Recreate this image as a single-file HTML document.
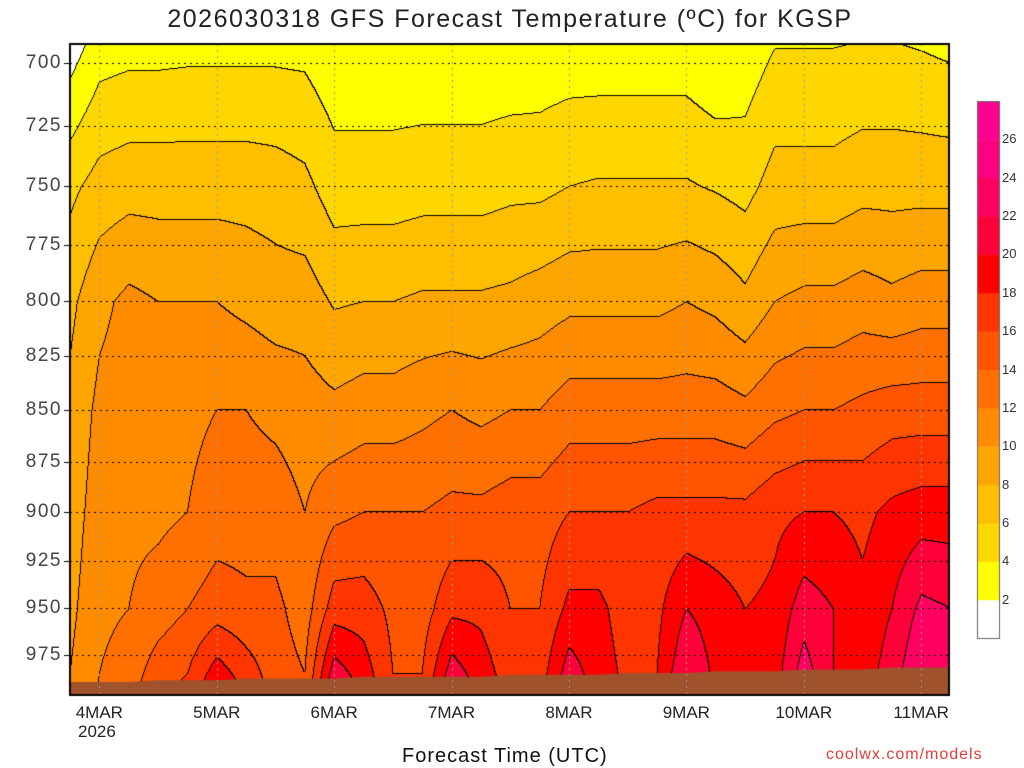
<!DOCTYPE html>
<html><head><meta charset="utf-8"><style>
body{margin:0;background:#fff;width:1024px;height:768px;overflow:hidden;position:relative;font-family:"Liberation Sans","DejaVu Sans",sans-serif}
.t{position:absolute;white-space:nowrap}
</style></head><body>
<div class="t" style="left:0;width:1020px;text-align:center;top:5px;font-size:25px;color:#222;letter-spacing:1.5px">2026030318 GFS Forecast Temperature (ºC) for KGSP</div>
<canvas id="c" width="1024" height="768" style="position:absolute;left:0;top:0"></canvas>
<div class="t" style="left:402px;top:745px;font-size:20px;color:#111;letter-spacing:1px">Forecast Time (UTC)</div>
<div class="t" style="left:826px;top:746px;font-size:16px;color:#e0403a;letter-spacing:1px">coolwx.com/models</div>
<div id="labels"></div>
<script>
const levels=[700,750,800,850,900,950,985];
const dayLabels=["4MAR","5MAR","6MAR","7MAR","8MAR","9MAR","10MAR","11MAR"];
const pTicks=[700,725,750,775,800,825,850,875,900,925,950,975];
const cbTicks=[2,4,6,8,10,12,14,16,18,20,22,24,26];
const binColors=["#ffffff","#ffff00","#ffd700","#ffbf00","#ffa500","#ff8c00","#ff7000","#ff5500","#ff3500","#ff0000","#ff0038","#ff0060","#ff0080","#ff0090"];
const temps=[
[1.5,5.5,7.5,8.5,9,9.5,10],
[3.5,6.8,9.5,10.5,11,11.5,12],
[3.8,7.2,10.5,11,11.5,12,13],
[3.8,7.2,10,11,11.5,13,15],
[3.9,7.2,10,11.5,12,14,16],
[3.9,7.2,10,12,13,15,19],
[3.9,7.2,9.5,12,13,14.5,17],
[3.9,7,9,11.5,13,14.5,15],
[3.8,6.5,9,11,12,13,14],
[2.8,5,7.8,10.5,13.5,17,21],
[2.8,5,8,11,14,17,19],
[2.8,5,8,11,14,15.5,16],
[2.8,5.2,8.3,11.5,14,15,16],
[2.8,5.2,8.3,12,14.5,17.5,21],
[2.8,5.2,8.3,11.5,14.5,17.5,19],
[2.9,5.5,8.5,12,15,16,17],
[3,5.5,9,12,15,16,17],
[3.2,6,9.5,13,16,18.5,21],
[3.2,6.2,9.5,13,16,18.5,19],
[3.2,6.2,9.5,13,16,17,17.5],
[3.2,6.2,9.5,13,16.5,17.5,18],
[3.2,6.2,10,13,16.5,20,22],
[2.5,5.8,9.5,13,16.5,19,19.5],
[3,5.3,8.5,12.5,16.5,18,18],
[4.3,6.8,10,13.5,17.5,18.5,19],
[4.3,6.8,10.5,14,18,21,23],
[4.3,6.8,10.5,14,18,20,20],
[4.5,7.3,11,14.5,17.5,18.5,19],
[4.5,7.3,10.5,15,18.5,20,21],
[4.3,7.3,11,15,19,22.5,24],
[4,7.3,11,15,19,22,22]];
const surfacePressure=[990,990,990,989,989,989,988,988,988,988,987,987,987,987,987,986,986,986,986,985,985,985,984,984,984,983,983,983,982,982,982];

const X0=70,X1=949,Y0=44,Y1=695,DAY=117.4;
function yP(p){return 63+1786*Math.log(p/700);}
const cv=document.getElementById('c'),ctx=cv.getContext('2d');
const W=X1-X0,H=Y1-Y0;
const img=ctx.createImageData(W,H);
const bins=new Int8Array(W*H);
const levY=levels.map(yP);
function hex(c){return [parseInt(c.substr(1,2),16),parseInt(c.substr(3,2),16),parseInt(c.substr(5,2),16)];}
const rgb=binColors.map(hex);
for(let j=0;j<H;j++){
  const y=Y0+j;
  let k=0;while(k<levY.length-2&&y>levY[k+1])k++;
  let fy=(y-levY[k])/(levY[k+1]-levY[k]);
  for(let i=0;i<W;i++){
    const tt=(i)/(DAY/4);let c=Math.min(Math.floor(tt),temps.length-2);let fx=tt-c;
    const a=temps[c][k]+(temps[c][k+1]-temps[c][k])*fy;
    const b=temps[c+1][k]+(temps[c+1][k+1]-temps[c+1][k])*fy;
    const v=a+(b-a)*fx;
    let bin=Math.floor(v/2);bin=Math.max(0,Math.min(13,bin));
    bins[j*W+i]=bin;
  }
}
for(let j=0;j<H;j++)for(let i=0;i<W;i++){
  const b=bins[j*W+i];let col=rgb[b];
  if((i<W-1&&bins[j*W+i+1]!==b)||(j<H-1&&bins[(j+1)*W+i]!==b))col=[0,0,0];
  const o=(j*W+i)*4;img.data[o]=col[0];img.data[o+1]=col[1];img.data[o+2]=col[2];img.data[o+3]=255;
}
ctx.putImageData(img,X0,Y0);
ctx.fillStyle="#a0522d";ctx.beginPath();ctx.moveTo(X0,Y1);
surfacePressure.forEach((p,i)=>ctx.lineTo(Math.min(X1,X0+i*DAY/4),yP(p)));
ctx.lineTo(X1,Y1);ctx.closePath();ctx.fill();
ctx.setLineDash([2,4]);ctx.lineWidth=1;
ctx.strokeStyle="#999";
dayLabels.forEach((d,i)=>{const x=Math.round(X0+(i+0.25)*DAY)+0.5;ctx.beginPath();ctx.moveTo(x,Y0);ctx.lineTo(x,Y1);ctx.stroke();});
ctx.strokeStyle="#000";
pTicks.forEach(p=>{const y=Math.round(yP(p))+0.5;ctx.beginPath();ctx.moveTo(X0,y);ctx.lineTo(X1,y);ctx.stroke();});
ctx.setLineDash([]);
ctx.lineWidth=2;ctx.strokeRect(X0,Y0,W,H);
ctx.lineWidth=1;
pTicks.forEach(p=>{const y=Math.round(yP(p))+0.5;ctx.beginPath();ctx.moveTo(X0-6,y);ctx.lineTo(X0,y);ctx.stroke();});
const CBX=977,CBW=22,CBT=101,CBB=638,bh=(CBB-CBT)/14;
binColors.forEach((c,i)=>{ctx.fillStyle=c;ctx.fillRect(CBX,CBB-(i+1)*bh,CBW,bh+0.5);});
ctx.strokeStyle="#666";ctx.strokeRect(CBX+0.5,CBT+0.5,CBW,CBB-CBT);
const L=document.getElementById('labels');
pTicks.forEach(p=>{const d=document.createElement('div');d.className='t';


d.style.cssText=`right:${1024-62}px;top:${yP(p)-11}px;font-size:19px;color:#444;letter-spacing:1.5px`;d.textContent=p;L.appendChild(d);});
dayLabels.forEach((s,i)=>{const d=document.createElement('div');d.className='t';


const x=X0+(i+0.25)*DAY;d.style.cssText=`left:${x-40}px;width:80px;text-align:center;top:703px;font-size:17px;color:#222`;d.textContent=s;L.appendChild(d);});
{const d=document.createElement('div');d.className='t';


d.style.cssText=`left:78px;top:722px;font-size:17px;color:#222`;d.textContent='2026';L.appendChild(d);}
cbTicks.forEach((v,i)=>{const d=document.createElement('div');d.className='t';


d.style.cssText=`left:1002px;top:${CBB-(i+1)*bh-8}px;font-size:13px;color:#333`;d.textContent=v;L.appendChild(d);});
</script>
</body></html>
